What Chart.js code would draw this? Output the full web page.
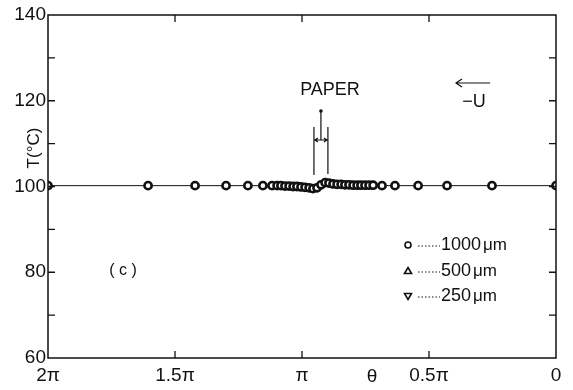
<!DOCTYPE html>
<html>
<head>
<meta charset="utf-8">
<script src="https://cdn.jsdelivr.net/npm/chart.js@4"></script>
<style>
  html, body { margin: 0; padding: 0; background: #fff; }
  #wrap { width: 573px; height: 390px; }
</style>
</head>
<body>
<div id="wrap"><canvas id="c"></canvas></div>
<script>
// angle in units of pi (2 = 2π on the left, 0 on the right)
const thetaPi = [2.0, 1.606, 1.421, 1.299, 1.213, 1.154, 1.118, 1.098, 1.083, 1.067, 1.051, 1.035,
  1.020, 1.004, 0.988, 0.972, 0.957, 0.941, 0.925, 0.909, 0.894, 0.878, 0.862, 0.846, 0.831,
  0.815, 0.799, 0.783, 0.768, 0.752, 0.736, 0.720, 0.685, 0.634, 0.543, 0.429, 0.252, 0.0];
const t1000 = [100.2, 100.2, 100.2, 100.2, 100.2, 100.2, 100.2, 100.2, 100.2, 100.1, 100.1, 100.0,
  100.0, 99.9, 99.8, 99.7, 99.5, 99.7, 100.4, 100.9, 100.8, 100.6, 100.5, 100.5, 100.4,
  100.4, 100.3, 100.3, 100.3, 100.3, 100.3, 100.3, 100.2, 100.2, 100.2, 100.2, 100.2, 100.2];
const t500 = [100.2, 100.2, 100.2, 100.2, 100.3, 100.2, 100.2, 100.2, 100.1, 100.1, 100.0, 100.0,
  99.9, 99.8, 99.7, 99.6, 99.5, 99.9, 100.6, 101.0, 100.8, 100.6, 100.5, 100.4, 100.4,
  100.3, 100.3, 100.3, 100.3, 100.2, 100.3, 100.3, 100.2, 100.2, 100.2, 100.2, 100.2, 100.2];
const t250 = [100.2, 100.2, 100.2, 100.2, 100.2, 100.2, 100.1, 100.1, 100.1, 100.0, 100.0, 99.9,
  99.9, 99.8, 99.7, 99.6, 99.5, 99.8, 100.5, 100.9, 100.7, 100.5, 100.4, 100.4, 100.3,
  100.3, 100.3, 100.2, 100.2, 100.2, 100.2, 100.2, 100.2, 100.2, 100.2, 100.2, 100.2, 100.2];
const xTicks = [2, 1.5, 1, 0.5, 0];
const xTickLabels = ['2π', '1.5π', 'π', '0.5π', '0'];
const yTicks = [60, 80, 100, 120, 140];
const legendNames = ['1000', '500', '250'];

const ink = '#111';
const FONT = '"Liberation Sans", Arial, sans-serif';

function pts(ys) {
  return thetaPi.map((t, i) => ({ x: t, y: ys[i] }));
}

// inward ticks, frame and the text notes
const decor = {
  id: 'decor',
  afterDraw(chart) {
    const ctx = chart.ctx;
    const a = chart.chartArea;
    const xs = chart.scales.x, ys = chart.scales.y;
    ctx.save();
    ctx.strokeStyle = ink;
    ctx.lineWidth = 1.5;
    ctx.strokeRect(a.left, a.top, a.right - a.left, a.bottom - a.top);

    ctx.lineWidth = 1.3;
    ctx.beginPath();
    for (let v = 70; v <= 130; v += 10) {
      const py = ys.getPixelForValue(v);
      ctx.moveTo(a.left, py); ctx.lineTo(a.left + 7, py);
      ctx.moveTo(a.right, py); ctx.lineTo(a.right - 7, py);
    }
    [1.5, 1, 0.5].forEach(v => {
      const px = xs.getPixelForValue(v);
      ctx.moveTo(px, a.bottom); ctx.lineTo(px, a.bottom - 7);
      ctx.moveTo(px, a.top); ctx.lineTo(px, a.top + 7);
    });
    ctx.stroke();

    ctx.fillStyle = ink;
    // y title
    ctx.save();
    ctx.translate(34, 148);
    ctx.rotate(-Math.PI / 2);
    ctx.font = '17px ' + FONT;
    ctx.textAlign = 'center';
    ctx.textBaseline = 'middle';
    ctx.fillText('T(°C)', 0, 0);
    ctx.restore();

    // x title
    ctx.font = '19px ' + FONT;
    ctx.textAlign = 'center';
    ctx.textBaseline = 'top';
    ctx.fillText('θ', 372, 367);

    // paper marker
    ctx.font = '18px ' + FONT;
    ctx.textBaseline = 'middle';
    ctx.fillText('PAPER', 330, 90);
    const p1 = xs.getPixelForValue(0.953), p2 = xs.getPixelForValue(0.898);
    const pm = (p1 + p2) / 2;
    ctx.lineWidth = 1.2;
    ctx.beginPath();
    ctx.moveTo(p1, 127); ctx.lineTo(p1, 175);
    ctx.moveTo(p2, 127); ctx.lineTo(p2, 174);
    ctx.moveTo(pm, 111); ctx.lineTo(pm, 140);
    ctx.moveTo(p1 + 1, 140); ctx.lineTo(p2 - 1, 140);
    ctx.moveTo(p1 + 4, 138); ctx.lineTo(p1 + 1, 140); ctx.lineTo(p1 + 4, 142);
    ctx.moveTo(p2 - 4, 138); ctx.lineTo(p2 - 1, 140); ctx.lineTo(p2 - 4, 142);
    ctx.stroke();
    ctx.beginPath();
    ctx.arc(pm, 111, 1.8, 0, Math.PI * 2);
    ctx.fill();

    // flow direction
    ctx.beginPath();
    ctx.moveTo(490, 83); ctx.lineTo(456, 83);
    ctx.moveTo(462, 79); ctx.lineTo(456, 83); ctx.lineTo(462, 87);
    ctx.stroke();
    ctx.fillText('−U', 474, 102);

    ctx.font = '16px ' + FONT;
    ctx.fillText('( c )', 123, 271);

    // legend
    const rows = [245, 271, 296];
    const shapes = ['circle', 'up', 'down'];
    rows.forEach((ry, i) => {
      const sx = 408;
      ctx.lineWidth = 1.6;
      ctx.beginPath();
      if (shapes[i] === 'circle') {
        ctx.arc(sx, ry, 3, 0, Math.PI * 2);
      } else if (shapes[i] === 'up') {
        ctx.moveTo(sx, ry - 3.5); ctx.lineTo(sx + 3.5, ry + 2.5); ctx.lineTo(sx - 3.5, ry + 2.5); ctx.closePath();
      } else {
        ctx.moveTo(sx, ry + 3.5); ctx.lineTo(sx + 3.5, ry - 2.5); ctx.lineTo(sx - 3.5, ry - 2.5); ctx.closePath();
      }
      ctx.stroke();
      ctx.setLineDash([1.5, 2]);
      ctx.lineWidth = 1;
      ctx.beginPath();
      ctx.moveTo(418, ry + 1); ctx.lineTo(440, ry + 1);
      ctx.stroke();
      ctx.setLineDash([]);
      ctx.font = '18px ' + FONT;
      ctx.textAlign = 'left';
      const w = ctx.measureText(legendNames[i]).width;
      ctx.fillText(legendNames[i], 441, ry);
      ctx.font = '17px ' + FONT;
      ctx.fillText('μm', 443 + w, ry);
    });
    ctx.restore();
  }
};

const data = {
  datasets: [{
    label: '1000 μm',
    data: pts(t1000),
    borderColor: ink,
    borderWidth: 1,
    pointStyle: 'circle',
    pointRadius: 3.6,
    pointBorderWidth: 2.6,
    pointBackgroundColor: '#fff',
    pointBorderColor: ink
  }, {
    label: '500 μm',
    data: pts(t500),
    borderColor: ink,
    borderWidth: 0,
    showLine: false,
    pointStyle: 'triangle',
    pointRadius: 2.4,
    pointBorderWidth: 1.5,
    pointBackgroundColor: '#fff',
    pointBorderColor: ink
  }, {
    label: '250 μm',
    data: pts(t250),
    borderColor: ink,
    borderWidth: 0,
    showLine: false,
    pointStyle: 'triangle',
    pointRotation: 180,
    pointRadius: 2.4,
    pointBorderWidth: 1.5,
    pointBackgroundColor: '#fff',
    pointBorderColor: ink
  }]
};

new Chart(document.getElementById('c'), {
  type: 'scatter',
  data: data,
  options: {
    responsive: true,
    maintainAspectRatio: false,
    animation: false,
    showLine: true,
    layout: { padding: { top: 15, right: 17, left: 0, bottom: 0 } },
    plugins: {
      legend: { display: false },
      tooltip: { enabled: false }
    },
    scales: {
      x: {
        type: 'linear',
        min: 0,
        max: 2,
        reverse: true,
        afterBuildTicks: s => { s.ticks = xTicks.map(v => ({ value: v })); },
        afterFit: s => { s.height = 32; },
        grid: { display: false, drawTicks: false },
        border: { display: false },
        ticks: {
          color: ink,
          font: { family: FONT, size: 19 },
          padding: 6,
          maxRotation: 0,
          autoSkip: false,
          callback: (v) => xTickLabels[xTicks.indexOf(v)]
        }
      },
      y: {
        min: 60,
        max: 140,
        afterBuildTicks: s => { s.ticks = yTicks.map(v => ({ value: v })); },
        afterFit: s => { s.width = 48; },
        grid: { display: false, drawTicks: false },
        border: { display: false },
        ticks: {
          color: ink,
          font: { family: FONT, size: 19 },
          padding: 2
        }
      }
    }
  },
  plugins: [decor]
});
</script>
</body>
</html>
